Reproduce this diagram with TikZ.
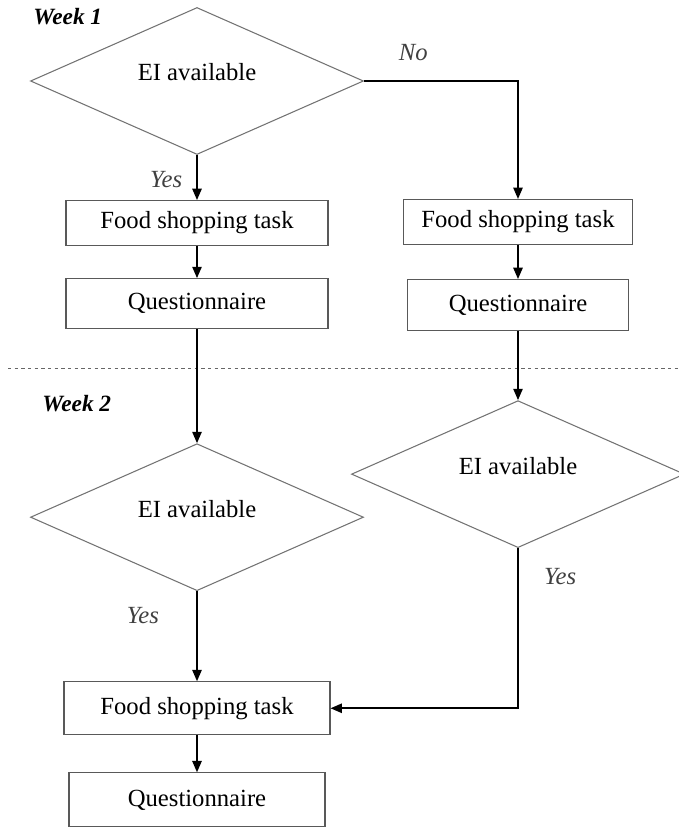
\documentclass[tikz,border=0pt]{standalone}
\usepackage{fontspec}
\setmainfont{Liberation Serif}
\usetikzlibrary{positioning,shapes.geometric,arrows.meta}

\begin{document}
\begin{tikzpicture}[x=0.75pt, y=-0.75pt,
      font=\fontsize{18.5}{22}\selectfont,
      box/.style={draw=black!65, line width=0.8pt, minimum width=196.5pt,
        minimum height=33.75pt, inner sep=0pt},
      decision/.style={diamond, draw=black!55, line width=0.8pt,
        minimum width=249.75pt, minimum height=110.25pt, inner sep=0pt,
        text height=0pt, text depth=0pt},
      arr/.style={-{Triangle[length=8.5pt,width=7pt]}, line width=1.2pt},
      lbl/.style={font=\fontsize{18.5}{22}\selectfont\itshape, text=black!75,
        inner sep=2pt},
      week/.style={font=\fontsize{17.5}{21}\selectfont\bfseries\itshape,
        inner sep=0pt}]
  \useasboundingbox (0,0) rectangle (678,827);
  \node[decision] (ei1) at (197,81) {EI available};
  \node[box, below=33.75pt of ei1] (shop1) {Food shopping task};
  \node[box, below=24pt of shop1, minimum height=37.5pt] (quest1) {Questionnaire};
  \node[box, minimum width=171.75pt] (shop2) at (518,222) {Food shopping task};
  \node[box, below=25.5pt of shop2, minimum width=165.75pt,
    minimum height=38.25pt] (quest2) {Questionnaire};
  \node[decision, below=85.5pt of quest1] (ei2) {EI available};
  \node[decision, below=51.75pt of quest2] (ei3) {EI available};
  \node[box, below=67.5pt of ei2, minimum width=199.5pt,
    minimum height=39.75pt] (shop3) {Food shopping task};
  \node[box, below=27.75pt of shop3, minimum width=192pt,
    minimum height=40.5pt] (quest3) {Questionnaire};
  \node[week, anchor=west] (wk1) at (33,17) {Week 1};
  \node[week, anchor=west] (wk2) at (42,404) {Week 2};
  \coordinate (sepl) at (8,368);
  \coordinate (sepr) at (678,368);
  \draw[black!60, line width=0.6pt, dash pattern=on 2.5pt off 2.5pt] (sepl) -- (sepr);
  \draw[arr] (ei1.east) -| node[lbl, pos=0.16, above=12.5pt] (no) {No} (shop2.north);
  \draw[arr] (ei1.south) -- node[lbl, pos=0.55, left=8.5pt] (yes1) {Yes} (shop1.north);
  \draw[arr] (shop1) -- (quest1);
  \draw[arr] (shop2) -- (quest2);
  \draw[arr] (quest1) -- (ei2);
  \draw[arr] (quest2) -- (ei3);
  \draw[arr] (ei2.south) -- node[lbl, pos=0.27, left=26pt] (yes2) {Yes} (shop3.north);
  \draw[arr] (ei3.south) |- node[lbl, pos=0.09, right=17pt] (yes3) {Yes} (shop3.east);
  \draw[arr] (shop3) -- (quest3);
\end{tikzpicture}
\end{document}
